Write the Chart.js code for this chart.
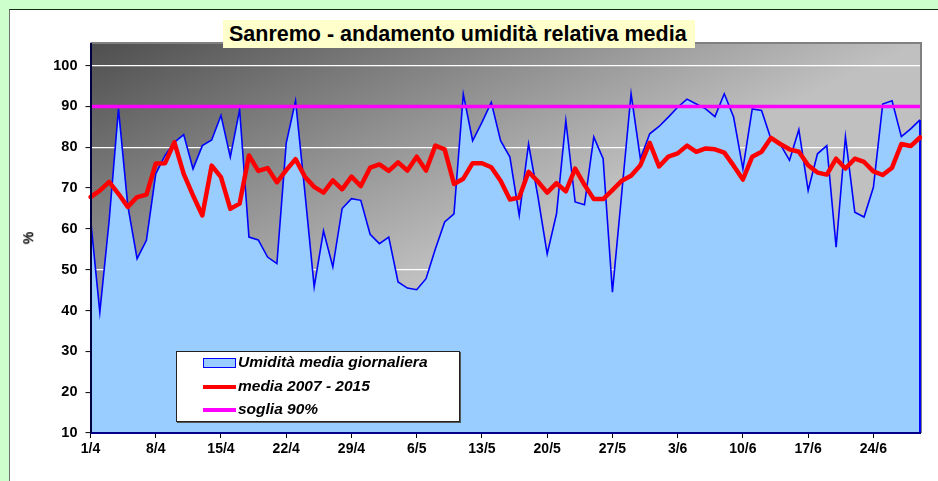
<!DOCTYPE html>
<html>
<head>
<meta charset="utf-8">
<script src="https://cdn.jsdelivr.net/npm/chart.js@4.4.1/dist/chart.umd.min.js"></script>
<style>
  html, body { margin: 0; padding: 0; }
  body { width: 938px; height: 481px; background: #ccffcc; position: relative; overflow: hidden;
         font-family: "Liberation Sans", Arial, sans-serif; }
  #panel { position: absolute; left: 9px; top: 9px; width: 940px; height: 480px; background: #ffffff;
           border-top: 1px solid #103010; border-left: 1px solid #707070; }
  #c { position: absolute; left: 0; top: 0; z-index: 1; }
  #title { position: absolute; left: 223px; top: 20px; width: 472px; height: 28px; background: #ffffcc;
           z-index: 2; font-weight: bold; font-size: 21.5px; line-height: 29px; padding-left: 6px; box-sizing: border-box;
           color: #000; white-space: nowrap; overflow: hidden; }
  #legend { position: absolute; left: 176px; top: 351px; width: 284px; height: 71px; background: #fff;
            border: 1px solid #222; box-shadow: 1px 1px 0 #555; box-sizing: border-box; z-index: 2; }
  .sw { position: absolute; left: 26px; width: 33px; }
  .lt { position: absolute; left: 61px; font-weight: bold; font-style: italic; font-size: 15.5px; line-height: 18px;
        color: #000; white-space: nowrap; }
  #ylab { position: absolute; left: 22px; top: 230px; z-index: 2; font-weight: bold; font-size: 14px;
          transform: rotate(-90deg); transform-origin: center; }
</style>
</head>
<body>
<div id="panel"></div>
<canvas id="c" width="938" height="481"></canvas>
<div id="title">Sanremo - andamento umidità relativa media</div>
<div id="ylab">%</div>
<div id="legend">
  <div class="sw" style="top:6px;height:10px;background:#99ccff;border:1.5px solid #0000ff;box-sizing:border-box;"></div>
  <div class="lt" style="top:1px;">Umidità media giornaliera</div>
  <div class="sw" style="top:33px;height:4px;background:#ff0000;"></div>
  <div class="lt" style="top:25px;">media 2007 - 2015</div>
  <div class="sw" style="top:56px;height:4px;background:#ff00ff;"></div>
  <div class="lt" style="top:48px;">soglia 90%</div>
</div>
<script>
const labels = [
  '1/4','2/4','3/4','4/4','5/4','6/4','7/4','8/4','9/4','10/4','11/4','12/4','13/4','14/4','15/4',
  '16/4','17/4','18/4','19/4','20/4','21/4','22/4','23/4','24/4','25/4','26/4','27/4','28/4','29/4','30/4',
  '1/5','2/5','3/5','4/5','5/5','6/5','7/5','8/5','9/5','10/5','11/5','12/5','13/5','14/5','15/5',
  '16/5','17/5','18/5','19/5','20/5','21/5','22/5','23/5','24/5','25/5','26/5','27/5','28/5','29/5','30/5','31/5',
  '1/6','2/6','3/6','4/6','5/6','6/6','7/6','8/6','9/6','10/6','11/6','12/6','13/6','14/6','15/6',
  '16/6','17/6','18/6','19/6','20/6','21/6','22/6','23/6','24/6','25/6','26/6','27/6','28/6','29/6'
];

const umidita = [
  62.5, 39.6, 62.0, 89.4, 65.7, 52.7, 57.2, 73.5, 78.0, 81.2,
  83.1, 74.7, 80.4, 81.8, 87.8, 77.6, 89.2, 58.0, 57.3, 53.1,
  51.5, 81.0, 91.4, 69.0, 45.8, 59.5, 50.7, 65.0, 67.4, 67.0,
  58.7, 56.4, 58.0, 47.0, 45.5, 45.1, 47.8, 55.1, 61.7, 63.7,
  93.0, 81.6, 86.1, 91.0, 81.6, 77.6, 63.3, 80.8, 68.0, 53.9,
  63.7, 86.5, 66.6, 65.9, 82.5, 77.2, 44.5, 68.8, 93.1, 77.2,
  83.3, 85.1, 87.4, 89.8, 91.8, 90.6, 89.4, 87.5, 93.1, 87.4,
  74.7, 89.4, 89.0, 82.1, 80.8, 76.8, 84.3, 69.4, 78.4, 80.4,
  55.5, 82.6, 64.1, 62.9, 70.2, 90.6, 91.4, 82.6, 84.5, 86.7
];

const media = [
  67.8, 69.4, 71.5, 68.6, 65.4, 67.8, 68.4, 76.0, 76.1, 81.2,
  73.5, 68.2, 63.3, 75.5, 72.7, 64.9, 66.2, 78.0, 74.2, 74.9,
  71.4, 74.4, 77.1, 72.8, 70.3, 68.9, 71.9, 69.7, 72.8, 70.5,
  75.0, 75.8, 74.2, 76.3, 74.3, 77.7, 74.3, 80.4, 79.5, 71.0,
  72.3, 76.1, 76.1, 75.1, 71.8, 67.2, 67.7, 74.0, 71.6, 68.9,
  71.2, 69.2, 74.8, 70.8, 67.3, 67.3, 69.5, 71.8, 73.0, 75.6,
  81.1, 75.3, 77.7, 78.5, 80.4, 78.9, 79.7, 79.5, 78.7, 75.5,
  72.1, 77.7, 78.9, 82.3, 80.8, 79.5, 78.9, 75.6, 73.8, 73.3,
  77.2, 74.8, 77.2, 76.4, 74.1, 73.2, 75.0, 80.8, 80.3, 82.4
];

const sogliaValue = 90;
const soglia = labels.map(() => sogliaValue);

const yTicks = [10, 20, 30, 40, 50, 60, 70, 80, 90, 100];
const yGridVisible = [100, 80, 50];
const xTickLabels = ['1/4','8/4','15/4','22/4','29/4','6/5','13/5','20/5','27/5','3/6','10/6','17/6','24/6'];

Chart.defaults.font.family = '"Liberation Sans", Arial, sans-serif';

const bgPlugin = {
  id: 'bg',
  beforeDraw(chart) {
    const { ctx, chartArea } = chart;
    const { left, top, right, bottom } = chartArea;
    const W = right - left, H = bottom - top;
    const t = 1 / (1 / (W * W) + 1 / (H * H));
    const g = ctx.createLinearGradient(left, top, left + t / W, top + t / H);
    g.addColorStop(0, '#4f4f4f');
    g.addColorStop(1, '#c0c0c0');
    ctx.save();
    ctx.fillStyle = g;
    ctx.fillRect(left, top, W, H);
    ctx.strokeStyle = '#808080';
    ctx.lineWidth = 2;
    ctx.beginPath();
    ctx.moveTo(left, top - 1);
    ctx.lineTo(right + 1, top - 1);
    ctx.lineTo(right + 1, bottom);
    ctx.stroke();
    ctx.restore();
  },
  afterDatasetDraw(chart, args) {
    if (args.index !== 0) return;
    const { ctx, chartArea } = chart;
    const pts = args.meta.data;
    const last = pts[pts.length - 1];
    ctx.save();
    ctx.strokeStyle = '#0000ff';
    ctx.lineWidth = 2;
    ctx.beginPath();
    ctx.moveTo(last.x, last.y);
    ctx.lineTo(last.x, chartArea.bottom);
    ctx.stroke();
    ctx.restore();
  }
};

new Chart(document.getElementById('c'), {
  type: 'line',
  data: {
    labels: labels,
    datasets: [
      {
        label: 'Umidità media giornaliera',
        data: umidita,
        borderColor: '#0000ff',
        backgroundColor: '#99ccff',
        borderWidth: 1.6,
        fill: 'start',
        pointRadius: 0,
        tension: 0,
        order: 3
      },
      {
        label: 'media 2007 - 2015',
        data: media,
        borderColor: '#ff0000',
        borderWidth: 4.5,
        borderJoinStyle: 'round',
        borderCapStyle: 'round',
        fill: false,
        pointRadius: 0,
        tension: 0,
        order: 2
      },
      {
        label: 'soglia 90%',
        data: soglia,
        borderColor: '#ff00ff',
        borderWidth: 3.5,
        fill: false,
        pointRadius: 0,
        tension: 0,
        order: 1
      }
    ]
  },
  options: {
    responsive: false,
    animation: false,
    devicePixelRatio: 1,
    layout: { padding: { left: 0, top: 44, right: 18, bottom: 0 } },
    plugins: { legend: { display: false }, title: { display: false }, tooltip: { enabled: false } },
    scales: {
      x: {
        type: 'category',
        offset: false,
        afterFit(s) { s.height = 48; },
        afterBuildTicks(s) {
          s.ticks = s.ticks.filter(t => xTickLabels.includes(labels[t.value]));
        },
        grid: { drawOnChartArea: false, drawTicks: true, tickLength: 5, tickColor: '#000', tickWidth: 1 },
        border: { display: true, color: '#00008a', width: 2, z: 1 },
        ticks: { autoSkip: false, maxRotation: 0, minRotation: 0, padding: 3,
                 color: '#000', font: { size: 14, weight: 'bold' } }
      },
      y: {
        min: 10,
        max: 105.3,
        afterFit(s) { s.width = 90.5; },
        afterBuildTicks(s) { s.ticks = yTicks.map(v => ({ value: v })); },
        grid: {
          color: (c) => (c.tick && yGridVisible.includes(c.tick.value)) ? '#ffffff' : 'rgba(0,0,0,0)',
          lineWidth: 1.2,
          drawTicks: true, tickLength: 5, tickColor: '#000', tickWidth: 1
        },
        border: { display: true, color: '#000040', width: 2, z: 1 },
        ticks: { padding: 8, color: '#000', font: { size: 14.5, weight: 'bold' } }
      }
    }
  },
  plugins: [bgPlugin]
});
</script>
</body>
</html>
